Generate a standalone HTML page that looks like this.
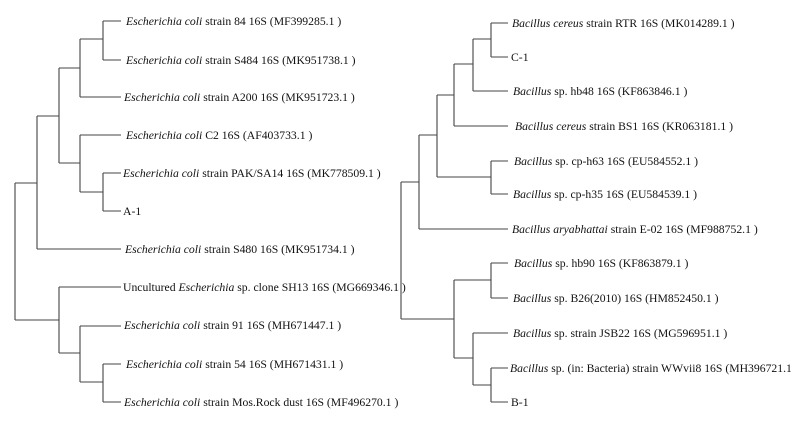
<!DOCTYPE html>
<html><head><meta charset="utf-8"><style>
html,body{margin:0;padding:0;background:#fff;}
svg{display:block;}
text{font-family:"Liberation Serif",serif;font-size:11.7px;fill:#111;}
</style></head><body>
<svg width="791" height="422" viewBox="0 0 791 422" xmlns="http://www.w3.org/2000/svg">
<g stroke="#444" stroke-width="1.1" fill="none">
<path d="M103,21V60M103,21H121M103,60H121M80,39H103"/>
<path d="M80,39V97M80,97H121M59,68H80"/>
<path d="M103,173V211M103,173H121M103,211H121M80,192H103"/>
<path d="M80,135V192M80,135H121M59,163H80"/>
<path d="M59,68V163M37,116H59"/>
<path d="M37,116V249M37,249H121M15,183H37"/>
<path d="M103,364V402M103,364H121M103,402H121M80,382H103"/>
<path d="M80,326V382M80,326H121M59,353H80"/>
<path d="M59,287V353M59,287H121M15,320H59"/>
<path d="M15,183V320"/>
<path d="M491,23V57M491,23H508M491,57H508M473,39H491"/>
<path d="M473,39V91M473,91H508M454,64H473"/>
<path d="M454,64V126M454,126H508M437,95H454"/>
<path d="M491,161V194M491,161H508M491,194H508M437,177H491"/>
<path d="M437,95V177M419,135H437"/>
<path d="M419,135V229M419,229H508M401,182H419"/>
<path d="M491,263V298M491,263H508M491,298H508M454,280H491"/>
<path d="M491,368V402M491,368H508M491,402H508M473,385H491"/>
<path d="M473,333V385M473,333H508M454,358H473"/>
<path d="M454,280V358M401,319H454"/>
<path d="M401,182V319"/>
</g>
<text x="126" y="25"><tspan font-style="italic">Escherichia coli</tspan> strain 84 16S (MF399285.1 )</text>
<text x="126" y="64"><tspan font-style="italic">Escherichia coli</tspan> strain S484 16S (MK951738.1 )</text>
<text x="124" y="101"><tspan font-style="italic">Escherichia coli</tspan> strain A200 16S (MK951723.1 )</text>
<text x="126" y="139"><tspan font-style="italic">Escherichia coli</tspan> C2 16S (AF403733.1 )</text>
<text x="123" y="177"><tspan font-style="italic">Escherichia coli</tspan> strain PAK/SA14 16S (MK778509.1 )</text>
<text x="123" y="215">A-1</text>
<text x="125" y="253"><tspan font-style="italic">Escherichia coli</tspan> strain S480 16S (MK951734.1 )</text>
<text x="123" y="291">Uncultured <tspan font-style="italic">Escherichia</tspan> sp. clone SH13 16S (MG669346.1 )</text>
<text x="124" y="329"><tspan font-style="italic">Escherichia coli</tspan> strain 91 16S (MH671447.1 )</text>
<text x="126" y="368"><tspan font-style="italic">Escherichia coli</tspan> strain 54 16S (MH671431.1 )</text>
<text x="124" y="406"><tspan font-style="italic">Escherichia coli</tspan> strain Mos.Rock dust 16S (MF496270.1 )</text>
<text x="512" y="27"><tspan font-style="italic">Bacillus cereus</tspan> strain RTR 16S (MK014289.1 )</text>
<text x="511" y="61">C-1</text>
<text x="513" y="95"><tspan font-style="italic">Bacillus</tspan> sp. hb48 16S (KF863846.1 )</text>
<text x="515" y="130"><tspan font-style="italic">Bacillus cereus</tspan> strain BS1 16S (KR063181.1 )</text>
<text x="514" y="165"><tspan font-style="italic">Bacillus</tspan> sp. cp-h63 16S (EU584552.1 )</text>
<text x="513" y="198"><tspan font-style="italic">Bacillus</tspan> sp. cp-h35 16S (EU584539.1 )</text>
<text x="512" y="233"><tspan font-style="italic">Bacillus aryabhattai</tspan> strain E-02 16S (MF988752.1 )</text>
<text x="514" y="267"><tspan font-style="italic">Bacillus</tspan> sp. hb90 16S (KF863879.1 )</text>
<text x="513" y="302"><tspan font-style="italic">Bacillus</tspan> sp. B26(2010) 16S (HM852450.1 )</text>
<text x="513" y="337"><tspan font-style="italic">Bacillus</tspan> sp. strain JSB22 16S (MG596951.1 )</text>
<text x="510" y="372"><tspan font-style="italic">Bacillus</tspan> sp. (in: Bacteria) strain WWvii8 16S (MH396721.1 )</text>
<text x="511" y="406">B-1</text>
</svg>
</body></html>
